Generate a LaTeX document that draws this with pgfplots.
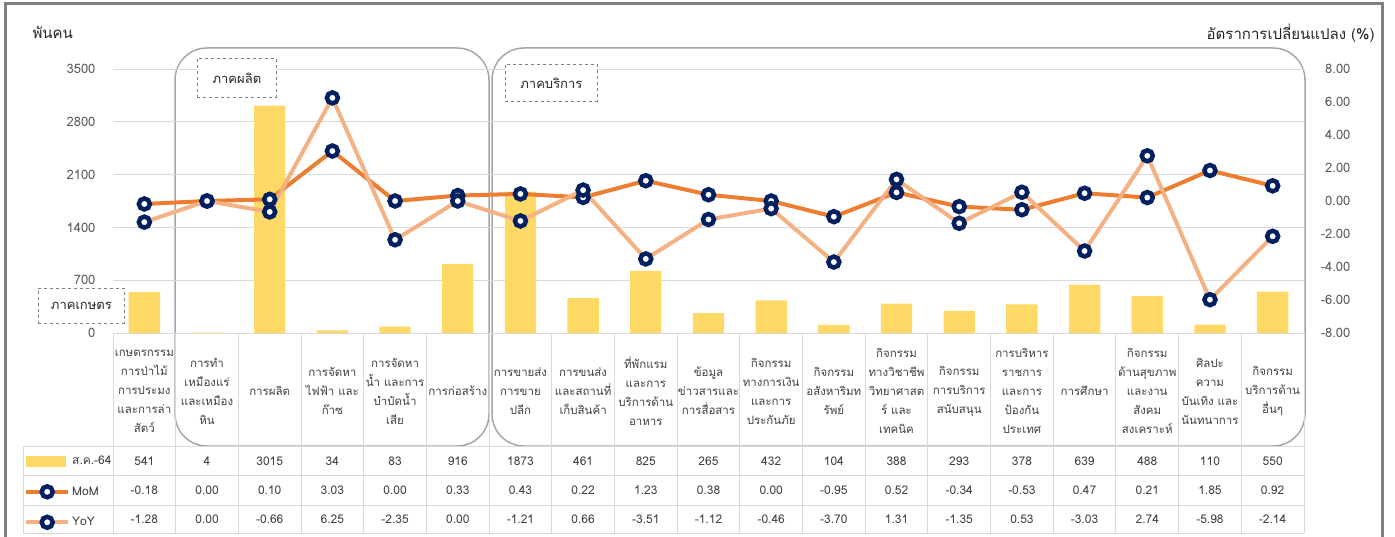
\documentclass[border=0pt]{standalone}
\usepackage{fontspec}
\setmainfont{Loma}[Script=Thai]
\usepackage{pgfplots}
\pgfplotsset{compat=1.18}
\definecolor{barcol}{HTML}{FFD966}
\definecolor{momcol}{HTML}{ED7D31}
\definecolor{yoycol}{HTML}{F4B183}
\definecolor{navy}{HTML}{002060}
\definecolor{gridgray}{HTML}{D9D9D9}
\definecolor{boxgray}{HTML}{A6A6A6}
\definecolor{txt}{HTML}{404040}
\definecolor{ticktxt}{HTML}{595959}
\newcommand\cat{\fontsize{11.5}{19}\selectfont}
\pgfplotsset{
  base/.style={at={(113pt,-333pt)}, anchor=south west, scale only axis,
    width=1191pt, height=264pt, xmin=-0.5, xmax=18.5, clip=false,
    axis line style={draw=none}, major tick length=0pt,
    /pgf/number format/assume math mode=true},
  dot/.style={mark=*, mark size=5.5pt, mark options={fill=white, draw=navy, line width=4.5pt}},
  lineleg/.style={legend image code/.code={\path[draw=white, draw opacity=0, fill=none, line width=4pt] (0pt,-9pt) rectangle (42pt,9pt);
    \draw[mark repeat=2,mark phase=2,##1] plot coordinates {(0pt,0pt) (21pt,0pt) (42pt,0pt)};}}
}
\begin{document}
\begin{tikzpicture}
\useasboundingbox (0pt,0pt) rectangle (1395pt,-537pt);
\begin{scope}[x=1pt,y=-1pt]
\draw[gray, line width=3pt] (5,540) -- (5,4) -- (1382,4) -- (1382,540);
\node[anchor=west, font=\fontsize{15}{18}\selectfont, text=black!85] at (29,33) {พันคน};
\node[anchor=east, font=\fontsize{15}{18}\selectfont, text=black!85] at (1378,33) {อัตราการเปลี่ยนแปลง (\%)};
\draw[boxgray, line width=1.5pt, rounded corners=32pt] (175,48) rectangle (489,446);
\draw[boxgray, line width=1.5pt, rounded corners=32pt] (492,48) rectangle (1305,446);
\end{scope}

\begin{axis}[base, ymin=0, ymax=3500, ytick={0,700,...,3500},
  ymajorgrids, grid style={draw=gridgray, line width=1pt},
  yticklabel style={anchor=east, xshift=-14pt, font=\fontsize{13}{15}\selectfont, text=ticktxt, /pgf/number format/1000 sep={}},
  xtick={0,...,18},
  xticklabel style={anchor=center, yshift=-58pt, align=center, font=\cat, text=txt},
  xticklabels={
    {เกษตรกรรม\\การป่าไม้\\การประมง\\และการล่า\\สัตว์},
    {การทำ\\เหมืองแร่\\และเหมือง\\หิน},
    {การผลิต},
    {การจัดหา\\ไฟฟ้า และ\\ก๊าซ},
    {การจัดหา\\น้ำ และการ\\บำบัดน้ำ\\เสีย},
    {การก่อสร้าง},
    {การขายส่ง\\การขาย\\ปลีก},
    {การขนส่ง\\และสถานที่\\เก็บสินค้า},
    {ที่พักแรม\\และการ\\บริการด้าน\\อาหาร},
    {ข้อมูล\\ข่าวสารและ\\การสื่อสาร},
    {กิจกรรม\\ทางการเงิน\\และการ\\ประกันภัย},
    {กิจกรรม\\อสังหาริมท\\รัพย์},
    {กิจกรรม\\ทางวิชาชีพ\\วิทยาศาสต\\ร์ และ\\เทคนิค},
    {กิจกรรม\\การบริการ\\สนับสนุน},
    {การบริหาร\\ราชการ\\และการ\\ป้องกัน\\ประเทศ},
    {การศึกษา},
    {กิจกรรม\\ด้านสุขภาพ\\และงาน\\สังคม\\สงเคราะห์},
    {ศิลปะ\\ความ\\บันเทิง และ\\นันทนาการ},
    {กิจกรรม\\บริการด้าน\\อื่นๆ}}]
\addplot[ybar, bar width=0.5, fill=barcol, draw=none] coordinates {
(0,541) (1,4) (2,3015) (3,34) (4,83) (5,916) (6,1873) (7,461) (8,825) (9,265)
(10,432) (11,104) (12,388) (13,293) (14,378) (15,639) (16,488) (17,110) (18,550)};
\end{axis}

\begin{axis}[base, ymin=-8, ymax=8, ytick={-8,-6,...,8},
  hide x axis, axis y line*=right,
  yticklabel style={anchor=east, xshift=50pt, font=\fontsize{13}{15}\selectfont, text=ticktxt,
    /pgf/number format/fixed, /pgf/number format/fixed zerofill, /pgf/number format/precision=2},
  legend style={at={(axis description cs:-0.0764,-0.436)}, anchor=north west, draw=none, fill=none,
    font=\fontsize{12}{14}\selectfont, text=txt, row sep=8.5pt, inner xsep=2pt, inner ysep=2pt,
    cells={anchor=west}},
  legend cell align=left]
\addlegendimage{legend image code/.code={\path[draw=white, draw opacity=0, fill=none, line width=4pt] (0pt,-9pt) rectangle (42pt,9pt);
  \fill[barcol] (0pt,-5pt) rectangle (39pt,5pt);}}
\addlegendentry{ส.ค.-64}
\addplot[momcol, line width=4pt, dot, lineleg] coordinates {
(0,-0.18) (1,0.00) (2,0.10) (3,3.03) (4,0.00) (5,0.33) (6,0.43) (7,0.22) (8,1.23) (9,0.38)
(10,0.00) (11,-0.95) (12,0.52) (13,-0.34) (14,-0.53) (15,0.47) (16,0.21) (17,1.85) (18,0.92)};
\addlegendentry{MoM}
\addplot[yoycol, line width=4pt, dot, lineleg] coordinates {
(0,-1.28) (1,0.00) (2,-0.66) (3,6.25) (4,-2.35) (5,0.00) (6,-1.21) (7,0.66) (8,-3.51) (9,-1.12)
(10,-0.46) (11,-3.70) (12,1.31) (13,-1.35) (14,0.53) (15,-3.03) (16,2.74) (17,-5.98) (18,-2.14)};
\addlegendentry{YoY}
\end{axis}

\begin{scope}[x=1pt,y=-1pt]
\foreach \k in {0,...,19} \draw[gridgray, line width=1pt] ({113+62.684*\k},333) -- ({113+62.684*\k},533);
\draw[gridgray, line width=1pt] (23,446) -- (23,533);
\foreach \yy in {446,475.5,505,533} \draw[gridgray, line width=1pt] (23,\yy) -- (1304,\yy);
\foreach \v [count=\i from 0] in {541,4,3015,34,83,916,1873,461,825,265,432,104,388,293,378,639,488,110,550}
  \node[font=\fontsize{12}{14}\selectfont, text=txt] at ({113+62.684*(\i+0.5)},461) {\v};
\foreach \v [count=\i from 0] in {-0.18,0.00,0.10,3.03,0.00,0.33,0.43,0.22,1.23,0.38,0.00,-0.95,0.52,-0.34,-0.53,0.47,0.21,1.85,0.92}
  \node[font=\fontsize{12}{14}\selectfont, text=txt] at ({113+62.684*(\i+0.5)},490) {\v};
\foreach \v [count=\i from 0] in {-1.28,0.00,-0.66,6.25,-2.35,0.00,-1.21,0.66,-3.51,-1.12,-0.46,-3.70,1.31,-1.35,0.53,-3.03,2.74,-5.98,-2.14}
  \node[font=\fontsize{12}{14}\selectfont, text=txt] at ({113+62.684*(\i+0.5)},519) {\v};
\tikzset{lab/.style={draw=gray, dashed, line width=0.8pt, fill=white, font=\fontsize{13}{15}\selectfont, text=black!85, inner sep=0pt}}
\node[lab, minimum width=79pt, minimum height=39pt, anchor=north west] at (197,58) {ภาคผลิต};
\node[lab, minimum width=92pt, minimum height=37pt, anchor=north west] at (505,64) {ภาคบริการ};
\node[lab, minimum width=86pt, minimum height=35pt, anchor=north west] at (38,288) {ภาคเกษตร};
\end{scope}
\end{tikzpicture}
\end{document}
